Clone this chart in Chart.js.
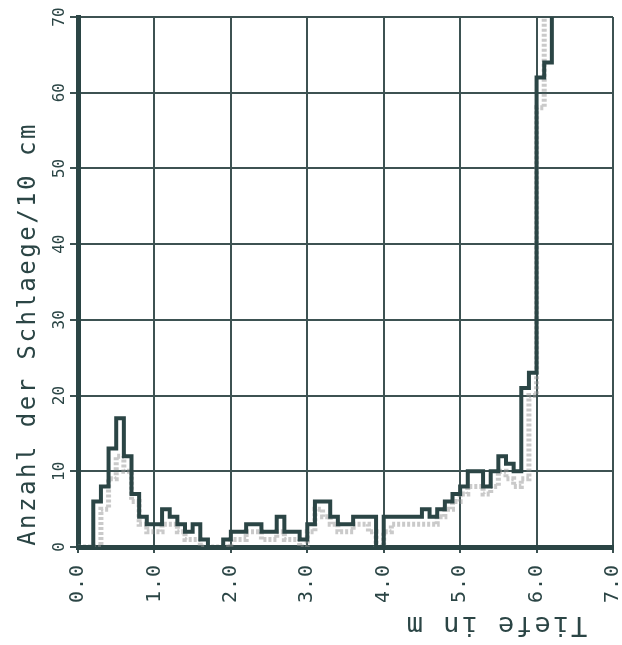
<!DOCTYPE html>
<html>
<head>
<meta charset="utf-8">
<script src="https://cdn.jsdelivr.net/npm/chart.js@4.4.1/dist/chart.umd.min.js"></script>
<style>
  body { margin: 0; background: #fff; }
  #wrap { width: 622px; height: 645px; }
</style>
</head>
<body>
<div id="wrap"><canvas id="grafica"></canvas></div>
<script>
// Tiefe (Beginn jedes 10-cm-Abschnitts) in m
const tiefe = [
  0.0, 0.1, 0.2, 0.3, 0.4, 0.5, 0.6, 0.7, 0.8, 0.9,
  1.0, 1.1, 1.2, 1.3, 1.4, 1.5, 1.6, 1.7, 1.8, 1.9,
  2.0, 2.1, 2.2, 2.3, 2.4, 2.5, 2.6, 2.7, 2.8, 2.9,
  3.0, 3.1, 3.2, 3.3, 3.4, 3.5, 3.6, 3.7, 3.8, 3.9,
  4.0, 4.1, 4.2, 4.3, 4.4, 4.5, 4.6, 4.7, 4.8, 4.9,
  5.0, 5.1, 5.2, 5.3, 5.4, 5.5, 5.6, 5.7, 5.8, 5.9,
  6.0, 6.1, 6.2
];

// Schlaege/10 cm - dunkle Linie
const schlaegeDunkel = [
  0, 0, 6, 8, 13, 17, 12, 7, 4, 3,
  3, 5, 4, 3, 2, 3, 1, 0, 0, 1,
  2, 2, 3, 3, 2, 2, 4, 2, 2, 1,
  3, 6, 6, 4, 3, 3, 4, 4, 4, 0,
  4, 4, 4, 4, 4, 5, 4, 5, 6, 7,
  8, 10, 10, 8, 10, 12, 11, 10, 21, 23,
  62, 64, 80
];

// Schlaege/10 cm - helle (graue) Linie
const schlaegeHell = [
  0, 0, 0, 5, 9, 12, 10, 6, 3, 2,
  2, 3, 3, 2, 1, 1, 0, 0, 0, 0,
  1, 1, 2, 2, 1, 1, 2, 1, 1, 0,
  2, 5, 4, 3, 2, 2, 3, 3, 2, 0,
  2, 3, 3, 3, 3, 3, 3, 4, 5, 6,
  7, 8, 8, 7, 8, 10, 9, 8, 9, 20,
  58, 80, 80
];

const xTicks = [0, 1, 2, 3, 4, 5, 6, 7];
const yTicks = [0, 10, 20, 30, 40, 50, 60, 70];

const farbe = "#2b4545";
const mono = "'DejaVu Sans Mono', monospace";

function punkte(werte) {
  return tiefe.map(function (t, i) {
    return { x: t, y: werte[i] };
  });
}

// eigene Beschriftungen (gedrehte Zahlen und Titel)
const beschriftung = {
  id: "beschriftung",
  afterDraw: function (chart) {
    const ctx = chart.ctx;
    const x = chart.scales.x;
    const y = chart.scales.y;
    ctx.save();
    ctx.fillStyle = farbe;

    // X-Zahlen, gedreht, von unten nach oben zu lesen
    ctx.font = "20px " + mono;
    ctx.letterSpacing = "1px";
    ctx.textAlign = "right";
    ctx.textBaseline = "middle";
    xTicks.forEach(function (v) {
      ctx.save();
      ctx.translate(x.getPixelForValue(v), 564);
      ctx.rotate(-Math.PI / 2);
      ctx.fillText(v.toFixed(1), 0, 0);
      ctx.restore();
    });

    // Y-Zahlen
    ctx.font = "16px " + mono;
    ctx.letterSpacing = "0px";
    ctx.textAlign = "center";
    yTicks.forEach(function (v) {
      ctx.save();
      ctx.translate(60, y.getPixelForValue(v));
      ctx.rotate(-Math.PI / 2);
      ctx.fillText(String(v), 0, 0);
      ctx.restore();
    });

    // Y-Titel
    ctx.save();
    ctx.font = "24px " + mono;
    ctx.letterSpacing = "2.5px";
    ctx.translate(29, 334);
    ctx.rotate(-Math.PI / 2);
    ctx.fillText("Anzahl der Schlaege/10 cm", 0, 0);
    ctx.restore();

    // X-Titel (auf dem Kopf)
    ctx.save();
    ctx.font = "27px " + mono;
    ctx.letterSpacing = "2px";
    ctx.translate(496, 624);
    ctx.rotate(Math.PI);
    ctx.fillText("Tiefe in m", 0, 0);
    ctx.restore();

    ctx.restore();
  },
};

const ctxGrafica = document.getElementById("grafica").getContext("2d");
const grafica = new Chart(ctxGrafica, {
  type: "line",
  data: {
    datasets: [
      {
        label: "dunkel",
        data: punkte(schlaegeDunkel),
        stepped: "before",
        borderColor: farbe,
        borderWidth: 4,
        pointRadius: 0,
        fill: false,
      },
      {
        label: "hell",
        data: punkte(schlaegeHell),
        stepped: "before",
        borderColor: "rgba(150, 150, 150, 0.5)",
        borderWidth: 5,
        borderDash: [3, 2],
        pointRadius: 0,
        fill: false,
      },
    ],
  },
  options: {
    responsive: true,
    maintainAspectRatio: false,
    animation: false,
    layout: { padding: { top: 17, right: 9, left: 0, bottom: 0 } },
    plugins: {
      legend: { display: false },
      tooltip: { enabled: false },
    },
    scales: {
      x: {
        type: "linear",
        min: 0,
        max: 7,
        afterFit: function (s) {
          s.height = 98;
        },
        ticks: { stepSize: 1, display: false },
        grid: { color: "#3d5252", lineWidth: 2, tickLength: 6 },
        border: { color: farbe, width: 5 },
      },
      y: {
        min: 0,
        max: 70,
        afterFit: function (s) {
          s.width = 78;
        },
        ticks: { stepSize: 10, display: false },
        grid: { color: "#3d5252", lineWidth: 2, tickLength: 8 },
        border: { color: farbe, width: 5 },
      },
    },
  },
  plugins: [beschriftung],
});
</script>
</body>
</html>
